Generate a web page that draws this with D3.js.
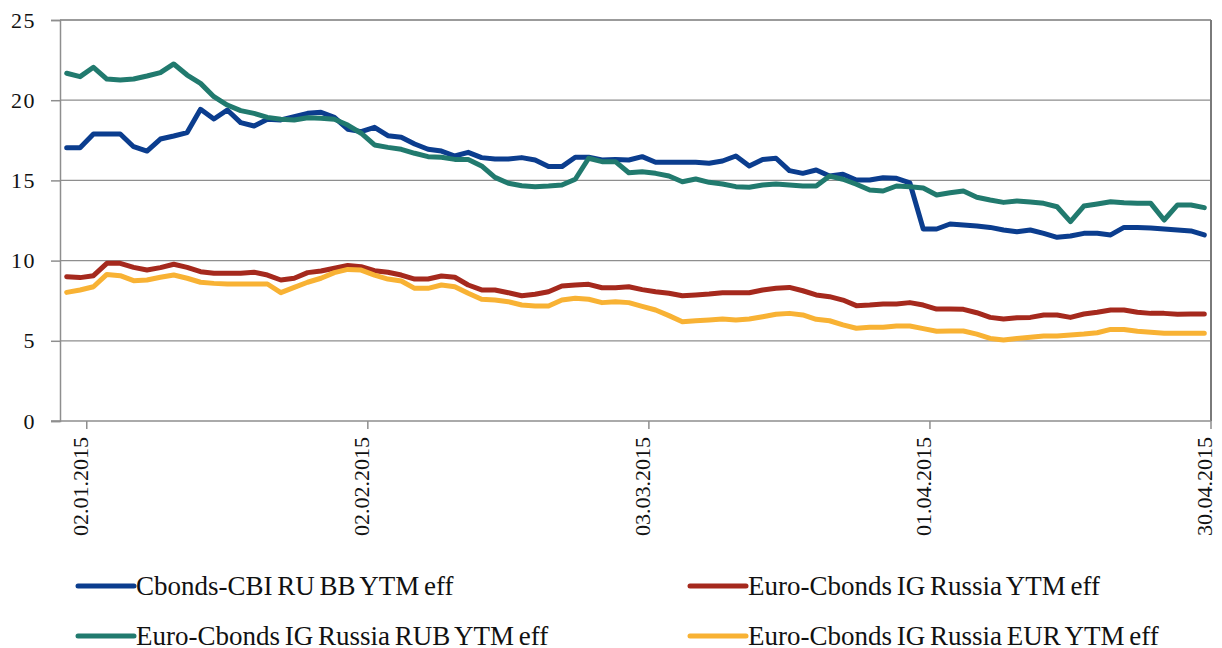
<!DOCTYPE html>
<html>
<head>
<meta charset="utf-8">
<script src="https://cdn.jsdelivr.net/npm/d3@7"></script>
<style>
  html, body { margin: 0; padding: 0; background: #ffffff; }
  svg { display: block; }
</style>
</head>
<body>
<svg id="chart" width="1222" height="648"></svg>
<script>
// Trading days, 31.12.2014 – 30.04.2015
const dates = [
  "31.12.2014",
  "02.01.2015","05.01.2015","06.01.2015","07.01.2015","08.01.2015","09.01.2015",
  "12.01.2015","13.01.2015","14.01.2015","15.01.2015","16.01.2015",
  "19.01.2015","20.01.2015","21.01.2015","22.01.2015","23.01.2015",
  "26.01.2015","27.01.2015","28.01.2015","29.01.2015","30.01.2015",
  "02.02.2015","03.02.2015","04.02.2015","05.02.2015","06.02.2015",
  "09.02.2015","10.02.2015","11.02.2015","12.02.2015","13.02.2015",
  "16.02.2015","17.02.2015","18.02.2015","19.02.2015","20.02.2015",
  "23.02.2015","24.02.2015","25.02.2015","26.02.2015","27.02.2015",
  "02.03.2015","03.03.2015","04.03.2015","05.03.2015","06.03.2015",
  "09.03.2015","10.03.2015","11.03.2015","12.03.2015","13.03.2015",
  "16.03.2015","17.03.2015","18.03.2015","19.03.2015","20.03.2015",
  "23.03.2015","24.03.2015","25.03.2015","26.03.2015","27.03.2015",
  "30.03.2015","31.03.2015",
  "01.04.2015","02.04.2015","03.04.2015",
  "06.04.2015","07.04.2015","08.04.2015","09.04.2015","10.04.2015",
  "13.04.2015","14.04.2015","15.04.2015","16.04.2015","17.04.2015",
  "20.04.2015","21.04.2015","22.04.2015","23.04.2015","24.04.2015",
  "27.04.2015","28.04.2015","29.04.2015","30.04.2015"
];

const labelDates = ["02.01.2015", "02.02.2015", "03.03.2015", "01.04.2015", "30.04.2015"];
const yTicks = [0, 5, 10, 15, 20, 25];

const seriesNames = [
  "Cbonds-CBI RU BB YTM eff",
  "Euro-Cbonds IG Russia YTM eff",
  "Euro-Cbonds IG Russia RUB YTM eff",
  "Euro-Cbonds IG Russia EUR YTM eff"
];
const seriesColors = ["#0b3d8e", "#a5291d", "#217a6e", "#f8b234"];

const cbiRuBB = [
  17.04,17.04,17.89,17.89,17.89,17.10,16.83,17.58,17.77,17.98,
  19.43,18.83,19.39,18.60,18.39,18.81,18.77,18.97,19.18,19.25,
  18.93,18.19,18.04,18.31,17.79,17.69,17.27,16.94,16.83,16.52,
  16.75,16.42,16.33,16.33,16.42,16.27,15.86,15.86,16.44,16.44,
  16.27,16.30,16.27,16.48,16.13,16.13,16.13,16.13,16.07,16.21,
  16.52,15.90,16.31,16.38,15.61,15.44,15.65,15.27,15.38,15.02,
  15.02,15.17,15.13,14.84,11.97,11.97,12.28,12.22,12.16,12.07,
  11.91,11.80,11.91,11.70,11.45,11.53,11.70,11.70,11.60,12.07,
  12.07,12.03,11.97,11.91,11.85,11.60
];
const euroIG = [
  9.00,8.94,9.06,9.83,9.83,9.58,9.41,9.56,9.77,9.58,
  9.31,9.21,9.21,9.21,9.27,9.10,8.79,8.90,9.25,9.35,
  9.52,9.70,9.62,9.37,9.27,9.10,8.85,8.85,9.04,8.96,
  8.48,8.17,8.17,8.00,7.81,7.90,8.06,8.42,8.48,8.52,
  8.31,8.31,8.37,8.19,8.06,7.96,7.81,7.86,7.92,8.00,
  8.00,8.00,8.17,8.27,8.33,8.12,7.86,7.75,7.54,7.19,
  7.23,7.29,7.29,7.38,7.23,6.98,6.98,6.96,6.75,6.46,
  6.36,6.44,6.46,6.61,6.61,6.46,6.67,6.78,6.92,6.92,
  6.78,6.71,6.71,6.65,6.67,6.67
];
const euroIGRub = [
  21.68,21.47,22.05,21.32,21.26,21.32,21.51,21.72,22.26,21.57,
  21.05,20.22,19.70,19.35,19.18,18.93,18.81,18.77,18.91,18.87,
  18.81,18.45,17.94,17.21,17.06,16.94,16.69,16.48,16.44,16.31,
  16.31,15.90,15.19,14.82,14.67,14.61,14.65,14.71,15.07,16.38,
  16.17,16.17,15.48,15.54,15.44,15.27,14.92,15.09,14.88,14.78,
  14.61,14.57,14.71,14.78,14.71,14.65,14.65,15.27,15.07,14.76,
  14.40,14.34,14.65,14.61,14.53,14.09,14.23,14.34,13.95,13.78,
  13.63,13.72,13.65,13.57,13.36,12.43,13.40,13.53,13.67,13.61,
  13.57,13.57,12.53,13.47,13.47,13.30
];
const euroIGEur = [
  8.02,8.17,8.37,9.14,9.06,8.75,8.79,8.96,9.10,8.90,
  8.65,8.58,8.54,8.54,8.54,8.54,8.00,8.33,8.65,8.90,
  9.25,9.45,9.41,9.10,8.85,8.73,8.27,8.27,8.48,8.37,
  7.96,7.59,7.54,7.44,7.23,7.17,7.17,7.54,7.65,7.59,
  7.38,7.44,7.38,7.15,6.92,6.57,6.19,6.25,6.30,6.36,
  6.30,6.36,6.50,6.65,6.71,6.61,6.34,6.25,5.99,5.78,
  5.84,5.84,5.92,5.92,5.76,5.60,5.61,5.61,5.42,5.15,
  5.05,5.15,5.22,5.30,5.30,5.36,5.42,5.50,5.71,5.71,
  5.59,5.53,5.47,5.47,5.47,5.47
];

const seriesValues = [cbiRuBB, euroIG, euroIGRub, euroIGEur];

const FONT = "Liberation Serif";
const TEXT_COLOR = "#111111";
const AXIS_COLOR = "#8e8e8e";

// Layout
const plot = { left: 60, right: 1211, top: 20, bottom: 421 };
const svg = d3.select("#chart");

const x = d3.scaleBand().domain(dates).range([plot.left, plot.right]).padding(0);
const bw = x.bandwidth();
const cx = d => x(d) + bw / 2;
const y = d3.scaleLinear().domain([0, 25]).range([plot.bottom, plot.top]);

// Horizontal gridlines
svg.append("g")
  .selectAll("line")
  .data(yTicks.filter(t => t > 0))
  .join("line")
  .attr("x1", plot.left).attr("x2", plot.right)
  .attr("y1", d => y(d)).attr("y2", d => y(d))
  .attr("stroke", d => d === 25 ? "#7a7a7a" : AXIS_COLOR)
  .attr("stroke-width", d => d === 25 ? 1.6 : 1.2);

// Right border of plot area
svg.append("line")
  .attr("x1", plot.right).attr("x2", plot.right)
  .attr("y1", plot.top).attr("y2", plot.bottom)
  .attr("stroke", "#7a7a7a").attr("stroke-width", 2);

// Y axis
const yAxis = d3.axisLeft(y).tickValues(yTicks).tickSize(9).tickPadding(15).tickFormat(d3.format("d"));
const gy = svg.append("g").attr("transform", `translate(${plot.left},0)`).call(yAxis);
gy.attr("font-family", FONT).attr("font-size", 22);
gy.select(".domain").attr("stroke", AXIS_COLOR).attr("stroke-width", 1.5);
gy.selectAll(".tick line").attr("stroke", AXIS_COLOR).attr("stroke-width", 1.5);
gy.selectAll(".tick text")
  .attr("fill", TEXT_COLOR)
  .attr("font-family", FONT)
  .attr("font-size", 22)
  .attr("letter-spacing", 1.5);

// X axis: ticks sit on the right boundary of each labelled day
const xAxis = d3.axisBottom(x).tickValues(labelDates).tickSize(8).tickSizeOuter(0);
const gx = svg.append("g").attr("transform", `translate(0,${plot.bottom})`).call(xAxis);
gx.attr("font-family", FONT).attr("font-size", 22);
gx.select(".domain").attr("stroke", AXIS_COLOR).attr("stroke-width", 1.5)
  .attr("d", `M${plot.left - 9},0H${plot.right}`);
gx.selectAll(".tick").attr("transform", d => `translate(${cx(d)},0)`);
gx.selectAll(".tick line")
  .attr("x1", bw / 2).attr("x2", bw / 2)
  .attr("stroke", AXIS_COLOR).attr("stroke-width", 1.5);
gx.selectAll(".tick text")
  .attr("fill", TEXT_COLOR)
  .attr("font-family", FONT)
  .attr("font-size", 22)
  .attr("transform", "rotate(-90)")
  .attr("text-anchor", "end")
  .attr("x", -16).attr("y", 0).attr("dy", "0.35em");

// Series lines
const line = d3.line()
  .x((v, i) => cx(dates[i]))
  .y(v => y(v));

svg.append("g")
  .selectAll("path")
  .data(seriesValues)
  .join("path")
  .attr("d", d => line(d))
  .attr("fill", "none")
  .attr("stroke", (d, i) => seriesColors[i])
  .attr("stroke-width", 5)
  .attr("stroke-linejoin", "round")
  .attr("stroke-linecap", "round");

// Legend: two columns, two rows
const legendPos = [
  { x: 78, y: 586 },
  { x: 690, y: 586 },
  { x: 78, y: 636 },
  { x: 690, y: 636 }
];
const lg = svg.append("g")
  .selectAll("g")
  .data(seriesNames)
  .join("g")
  .attr("transform", (d, i) => `translate(${legendPos[i].x},${legendPos[i].y})`);
lg.append("line")
  .attr("x1", 0).attr("x2", 56).attr("y1", 0).attr("y2", 0)
  .attr("stroke", (d, i) => seriesColors[i])
  .attr("stroke-width", 5)
  .attr("stroke-linecap", "round");
lg.append("text")
  .attr("x", 58).attr("y", 9)
  .attr("fill", TEXT_COLOR)
  .attr("font-family", FONT)
  .attr("font-size", 27)
  .attr("word-spacing", -2)
  .text(d => d);
</script>
</body>
</html>
